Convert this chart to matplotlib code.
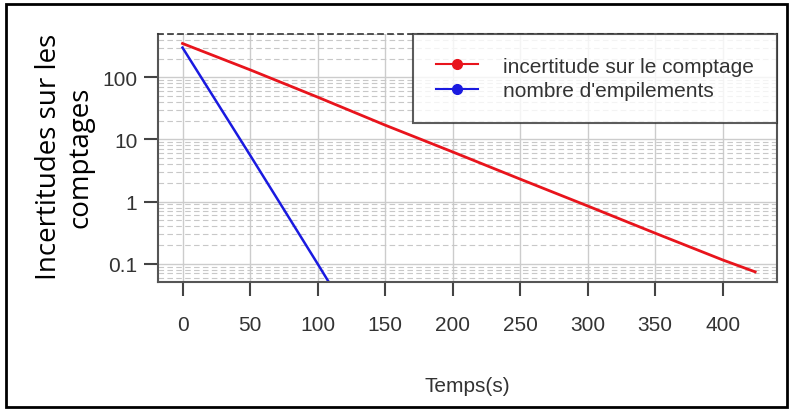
import matplotlib
matplotlib.use("Agg")
import matplotlib.pyplot as plt
from matplotlib.patches import Rectangle
from matplotlib.lines import Line2D
from matplotlib.ticker import LogLocator, FixedLocator

# valeurs
t_incert = [0, 50, 100, 150, 200, 250, 300, 350, 400, 424]
incert = [350, 132, 48, 17, 6.3, 2.3, 0.85, 0.31, 0.115, 0.074]

t_empil = [0, 25, 50, 75, 100, 108]
empil = [300, 41, 5.6, 0.75, 0.10, 0.052]

xticks = [0, 50, 100, 150, 200, 250, 300, 350, 400]
yticks = [0.1, 1, 10, 100]
ylabels = ["0.1", "1", "10", "100"]

plt.rcParams['font.family'] = ['Liberation Sans', 'DejaVu Sans']

fig = plt.figure(figsize=(7.91, 4.10), dpi=100)
ax = fig.add_axes([0.2, 0.31, 0.782, 0.605])

# grille
ax.set_yscale('log')
ax.set_xlim(-18, 440)
ax.set_ylim(0.051, 500)
ax.xaxis.set_major_locator(FixedLocator(xticks))
ax.yaxis.set_major_locator(FixedLocator(yticks))
ax.yaxis.set_minor_locator(LogLocator(base=10, subs=range(2, 10)))
ax.grid(True, which='major', color='#cccccc', lw=1.0, ls='-')
ax.grid(True, which='minor', axis='y', color='#c8c8c8', lw=0.8, ls=(0, (5, 3)))
ax.set_axisbelow(True)

ax.plot(t_incert, incert, color='#e8141c', lw=2)
ax.plot(t_empil, empil, color='#1a1ae0', lw=1.8)

ax.set_yticklabels(ylabels)
ax.tick_params(axis='both', which='major', labelsize=15, labelcolor='#333333',
               color='#444444', length=10, width=1.5, direction='out')
ax.tick_params(axis='x', pad=14)
ax.tick_params(axis='y', which='minor', length=0)
ax.tick_params(axis='y', pad=5)

for s in ['left', 'bottom', 'right']:
    ax.spines[s].set_color('#555555')
    ax.spines[s].set_linewidth(1.5)
ax.spines['top'].set_linestyle((0, (3, 3)))
ax.spines['top'].set_color('#333333')
ax.spines['top'].set_linewidth(1.2)

# légende avec marqueurs
handles = [Line2D([], [], color='#e8141c', lw=1.5, marker='o', ms=7),
           Line2D([], [], color='#1a1ae0', lw=1.5, marker='o', ms=7)]
leg = ax.legend(handles, ["incertitude sur le comptage", "nombre d'empilements"],
                loc='upper right', fontsize=15, frameon=True, fancybox=False,
                borderaxespad=0, handlelength=2.0, handletextpad=1.2,
                borderpad=1.1, labelspacing=0.25)
leg.get_frame().set_edgecolor('#333333')
leg.get_frame().set_linewidth(1.5)
for txt in leg.get_texts():
    txt.set_color('#333333')

ax.set_xlabel("Temps(s)", fontsize=15, color='#333333', labelpad=30)
fig.text(0.082, 0.617, "Incertitudes sur les\ncomptages", rotation=90,
         ha='center', va='center', fontsize=20, family=['Open Sans', 'DejaVu Sans'],
         multialignment='center', linespacing=1.15)

# cadre extérieur
fig.patches.append(Rectangle((0.008, 0.004), 0.987, 0.984, transform=fig.transFigure,
                             fill=False, edgecolor='black', lw=2))

fig.savefig("out.png", dpi=100)
